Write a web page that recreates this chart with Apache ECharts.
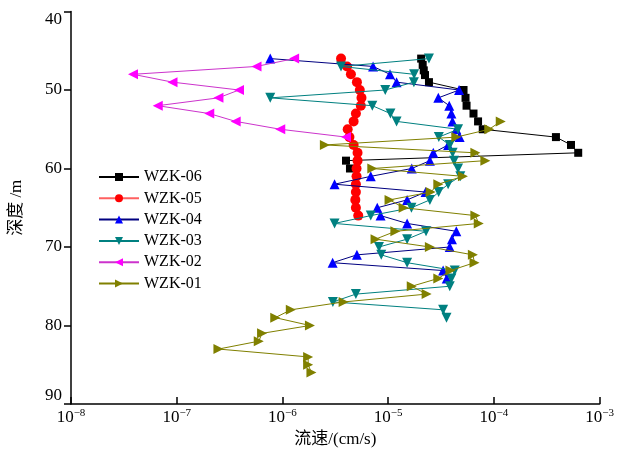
<!DOCTYPE html>
<html>
<head>
<meta charset="utf-8">
<script src="https://cdn.jsdelivr.net/npm/echarts@6/dist/echarts.min.js"></script>
<style>html,body{margin:0;padding:0;background:#fff;}#c{width:617px;height:462px;}</style>
</head>
<body>
<div id="c"></div>
<script>
// ---- data ----
const seriesNames = ['WZK-06', 'WZK-05', 'WZK-04', 'WZK-03', 'WZK-02', 'WZK-01'];
const xTickExponents = [-8, -7, -6, -5, -4, -3];
const yTicks = [40, 50, 60, 70, 80, 90];

const depth06 = [46, 46.8, 47.5, 48.1, 49, 50, 51, 52, 53, 54, 55, 56, 57, 58, 59, 60];
const flow06 = [2.05e-5, 2.12e-5, 2.17e-5, 2.23e-5, 2.43e-5, 5.16e-5, 5.39e-5, 5.51e-5, 6.41e-5, 7.08e-5, 7.84e-5, 3.86e-4, 5.36e-4, 6.27e-4, 3.99e-6, 4.35e-6];

const depth05 = [46, 47, 48, 49, 50, 51, 52, 53, 54, 55, 56, 57, 58, 59, 60, 61, 62, 63, 64, 65, 66];
const flow05 = [3.58e-6, 4.08e-6, 4.44e-6, 5.06e-6, 5.39e-6, 5.59e-6, 5.51e-6, 4.95e-6, 4.71e-6, 4.14e-6, 4.3e-6, 4.71e-6, 5.13e-6, 5.13e-6, 5.02e-6, 5.02e-6, 4.95e-6, 4.95e-6, 4.89e-6, 4.95e-6, 5.21e-6];

const depth04 = [46, 47, 48, 49, 50, 51, 52, 53, 54, 55, 56, 57, 58, 59, 60, 61, 62, 63, 64, 65, 66, 67, 68, 69, 70, 71, 72, 73, 74];
const flow04 = [7.67e-7, 7.19e-6, 1.04e-5, 1.20e-5, 4.68e-5, 2.98e-5, 3.78e-5, 3.96e-5, 4.05e-5, 4.41e-5, 4.74e-5, 3.69e-5, 2.67e-5, 2.48e-5, 1.67e-5, 6.84e-6, 3.11e-6, 2.26e-5, 1.51e-5, 7.88e-6, 8.47e-6, 1.51e-5, 4.41e-5, 4.01e-5, 3.82e-5, 5.06e-6, 2.98e-6, 3.31e-5, 3.58e-5];

const depth03 = [46, 47, 48, 49, 50, 51, 52, 53, 54, 55, 56, 57, 58, 59, 60, 61, 62, 63, 64, 65, 66, 67, 68, 69, 70, 71, 72, 73, 74, 75, 76, 77, 78, 79];
const flow03 = [2.43e-5, 3.58e-6, 1.76e-5, 1.75e-5, 9.38e-6, 7.67e-7, 7.08e-6, 1.05e-5, 1.20e-5, 4.58e-5, 3.01e-5, 3.82e-5, 4.07e-5, 4.20e-5, 4.58e-5, 4.81e-5, 3.69e-5, 3.0e-5, 2.48e-5, 1.66e-5, 6.84e-6, 3.11e-6, 2.28e-5, 1.51e-5, 8.18e-6, 8.6e-6, 1.51e-5, 4.26e-5, 3.96e-5, 3.82e-5, 4.95e-6, 3.0e-6, 3.31e-5, 3.56e-5];

const depth02 = [46, 47, 48, 49, 50, 51, 52, 53, 54, 55, 56];
const flow02 = [1.29e-6, 5.68e-7, 3.86e-8, 9.12e-8, 3.88e-7, 2.48e-7, 6.61e-8, 2.03e-7, 3.61e-7, 9.53e-7, 3.99e-6];

const depth01 = [54, 55, 56, 57, 58, 59, 60, 61, 62, 63, 64, 65, 66, 67, 68, 69, 70, 71, 72, 73, 74, 75, 76, 77, 78, 79, 80, 81, 82, 83, 84, 85, 86];
const flow01 = [1.16e-4, 9.03e-5, 4.41e-5, 2.52e-6, 6.68e-5, 8.30e-5, 7.08e-6, 5.09e-5, 2.98e-5, 2.52e-5, 1.03e-5, 1.40e-5, 6.68e-5, 7.19e-5, 1.17e-5, 7.60e-6, 2.48e-5, 6.32e-5, 6.55e-5, 3.88e-5, 2.98e-5, 1.67e-5, 2.31e-5, 3.79e-6, 1.20e-6, 8.55e-7, 1.82e-6, 6.41e-7, 5.97e-7, 2.48e-7, 1.75e-6, 1.75e-6, 1.88e-6];

// ---- styling ----
const serif = '"Liberation Serif","Times New Roman","Noto Sans CJK SC",serif';
const pairs = (f, d) => f.map((v, i) => [v, d[i]]);
const specs = [
  {f: flow06, d: depth06, sym: 'rect', rot: 0, size: 8, mc: '#000000', lc: '#000000'},
  {f: flow05, d: depth05, sym: 'circle', rot: 0, size: 10, mc: '#ff0000', lc: '#ff6060'},
  {f: flow04, d: depth04, sym: 'triangle', rot: 0, size: 10, mc: '#0000ff', lc: '#000080'},
  {f: flow03, d: depth03, sym: 'triangle', rot: 180, size: 10, mc: '#008080', lc: '#008080'},
  {f: flow02, d: depth02, sym: 'triangle', rot: 90, size: 10, mc: '#ff00ff', lc: '#cc33cc'},
  {f: flow01, d: depth01, sym: 'triangle', rot: -90, size: 10, mc: '#808000', lc: '#808000'}
];

const series = specs.map((s, i) => ({
  name: seriesNames[i],
  type: 'line',
  data: pairs(s.f, s.d),
  symbol: s.sym,
  symbolRotate: s.rot,
  symbolSize: s.size,
  showAllSymbol: true,
  animation: false,
  lineStyle: {color: s.lc, width: 1},
  itemStyle: {color: s.mc, borderWidth: 0},
  z: 2 + i
}));

const chart = echarts.init(document.getElementById('c'), null, {renderer: 'canvas'});
chart.setOption({
  backgroundColor: '#ffffff',
  animation: false,
  grid: {left: 70, right: 12, top: 11.5, bottom: 58, containLabel: false},
  legend: {
    orient: 'vertical',
    left: 93,
    top: 164,
    itemWidth: 40,
    itemHeight: 10,
    itemGap: 5.3,
    textStyle: {fontFamily: serif, fontSize: 16, color: '#000'},
    data: seriesNames
  },
  xAxis: {
    type: 'log',
    logBase: 10,
    min: Math.pow(10, xTickExponents[0]),
    max: Math.pow(10, xTickExponents[xTickExponents.length - 1]),
    name: '流速/(cm/s)',
    nameLocation: 'middle',
    nameGap: 27,
    nameTextStyle: {fontFamily: serif, fontSize: 17, color: '#000'},
    axisLine: {lineStyle: {color: '#000', width: 1.5}},
    axisTick: {inside: true, length: 7, lineStyle: {color: '#000', width: 1.5}},
    minorTick: {show: false},
    splitLine: {show: false},
    axisLabel: {
      margin: 4,
      formatter: v => '10{sup|−' + Math.abs(Math.round(Math.log10(v))) + '}',
      rich: {sup: {fontFamily: serif, fontSize: 11, color: '#000', verticalAlign: 'bottom', padding: [0, 0, 8, 0]}},
      fontFamily: serif, fontSize: 17, color: '#000'
    }
  },
  yAxis: {
    type: 'value',
    inverse: true,
    min: yTicks[0],
    max: yTicks[yTicks.length - 1],
    interval: 10,
    name: '深度 /m',
    nameLocation: 'middle',
    nameGap: 46,
    nameRotate: 90,
    nameTextStyle: {fontFamily: serif, fontSize: 17, color: '#000'},
    axisLine: {show: true, lineStyle: {color: '#000', width: 1.5}},
    axisTick: {show: true, inside: false, length: 7, lineStyle: {color: '#000', width: 1.5}},
    splitLine: {show: false},
    axisLabel: {
      margin: 9,
      fontFamily: serif, fontSize: 17, color: '#000',
      verticalAlignMinLabel: 'top',
      verticalAlignMaxLabel: 'bottom'
    }
  },
  series: series
});
</script>
</body>
</html>
